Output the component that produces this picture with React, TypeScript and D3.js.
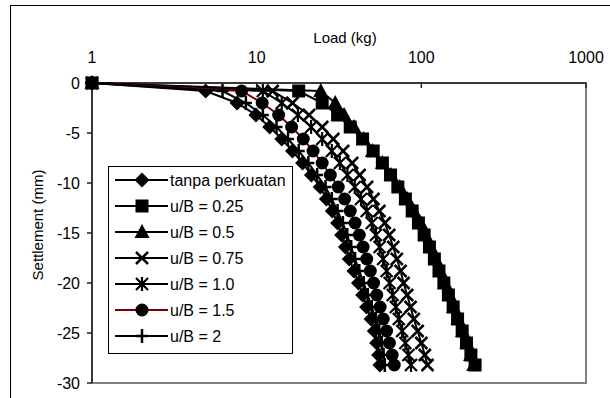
import * as d3 from 'd3'
import type { ReactElement } from 'react'

// settlement readings (mm), shared by every test
const settlement = [
  0, -0.8, -2.0, -3.2, -4.4, -5.6, -6.8, -8.0, -9.2, -10.4, -11.6, -12.8, -14.0, -15.2, -16.4, -17.6,
  -18.8, -20.0, -21.2, -22.4, -23.6, -24.8, -26.0, -27.2, -28.2,
]

// load (kg) at each settlement reading
const loadTanpa = [
  1, 4.9, 7.6, 9.9, 12, 14.2, 16.5, 19, 21.5, 24.3, 26.5, 28.8, 31, 32.8, 34.6, 36.5, 39, 41.5, 44, 46.5,
  49.5, 51.8, 53.5, 55, 56,
]
const loadU025 = [
  1, 18, 25, 31, 37, 44, 51, 58, 65, 72, 80, 88, 96, 104, 112, 120, 128, 137, 146, 156, 166, 177, 188, 200,
  212,
]
const loadU05 = [
  1, 24.5, 30, 34, 39, 44.5, 50.5, 58, 65.5, 74, 82, 90, 99, 106, 114, 122, 130, 139, 148, 157, 167, 178,
  189, 199, 208,
]
const loadU075 = [
  1, 12.5, 16.5, 20.8, 25, 29.2, 33.5, 38, 42.2, 46.8, 51.2, 55.6, 60, 63.8, 67.5, 71, 74.8, 78, 82, 86, 90,
  95, 100, 105, 109,
]
const loadU10 = [
  1, 10.9, 14.2, 17.8, 21.4, 25, 28.6, 32, 35.6, 39.4, 43, 46.6, 50, 53, 55.8, 58.6, 61.6, 64.2, 67, 70, 73,
  76.5, 80, 83.5, 86.5,
]
const loadU15 = [
  1, 8.1, 10.8, 13.6, 16.3, 19.2, 22, 25, 28, 31.3, 34.2, 37, 39.6, 42, 44.3, 46.6, 49, 51.3, 53.6, 56.2,
  58.7, 61.5, 64, 66.5, 68.5,
]
const loadU2 = [
  1, 6.2, 8.6, 10.9, 13.2, 15.5, 18, 20.6, 23.3, 26.2, 28.6, 31, 33.4, 35.5, 37.5, 39.6, 42, 44.7, 47.3, 50,
  53, 55.5, 57.5, 59, 60,
]

const seriesNames = ['tanpa perkuatan', 'u/B = 0.25', 'u/B = 0.5', 'u/B = 0.75', 'u/B = 1.0', 'u/B = 1.5', 'u/B = 2']
const loadTicks = [1, 10, 100, 1000]
const settlementTicks = [0, -5, -10, -15, -20, -25, -30]

type MarkerKind = 'diamond' | 'square' | 'triangle' | 'cross' | 'star' | 'circle' | 'plus'

const series: { name: string; loads: number[]; marker: MarkerKind; color: string }[] = [
  { name: seriesNames[0], loads: loadTanpa, marker: 'diamond', color: '#000' },
  { name: seriesNames[1], loads: loadU025, marker: 'square', color: '#000' },
  { name: seriesNames[2], loads: loadU05, marker: 'triangle', color: '#000' },
  { name: seriesNames[3], loads: loadU075, marker: 'cross', color: '#000' },
  { name: seriesNames[4], loads: loadU10, marker: 'star', color: '#000' },
  { name: seriesNames[5], loads: loadU15, marker: 'circle', color: '#800000' },
  { name: seriesNames[6], loads: loadU2, marker: 'plus', color: '#000' },
]

const font = "'Liberation Sans', Arial, sans-serif"

function Marker({ kind, x, y }: { kind: MarkerKind; x: number; y: number }): ReactElement {
  switch (kind) {
    case 'diamond':
      return <path d={`M${x},${y - 7.5}L${x + 7.5},${y}L${x},${y + 7.5}L${x - 7.5},${y}Z`} fill="#000" />
    case 'square':
      return <rect x={x - 6.5} y={y - 6.5} width={13} height={13} fill="#000" />
    case 'triangle':
      return <path d={`M${x},${y - 8}L${x + 7.5},${y + 6}L${x - 7.5},${y + 6}Z`} fill="#000" />
    case 'cross':
      return (
        <path d={`M${x - 6},${y - 6}L${x + 6},${y + 6}M${x - 6},${y + 6}L${x + 6},${y - 6}`} stroke="#000" strokeWidth={2.5} />
      )
    case 'star':
      return (
        <path
          d={`M${x - 6},${y - 6}L${x + 6},${y + 6}M${x - 6},${y + 6}L${x + 6},${y - 6}M${x},${y - 7}L${x},${y + 7}`}
          stroke="#000"
          strokeWidth={2.2}
        />
      )
    case 'circle':
      return <circle cx={x} cy={y} r={6.5} fill="#000" />
    case 'plus':
      return <path d={`M${x - 6},${y}L${x + 6},${y}M${x},${y - 7}L${x},${y + 7}`} stroke="#000" strokeWidth={2.5} />
  }
}

export default function App(): ReactElement {
  const width = 610
  const height = 398
  const plot = { left: 92, right: 586, top: 83, bottom: 383 }

  const xScale = d3.scaleLog().domain([1, 1000]).range([plot.left, plot.right])
  const yScale = d3.scaleLinear().domain([-30, 0]).range([plot.bottom, plot.top])

  const line = d3
    .line<number>()
    .x((d) => xScale(d))
    .y((_, i) => yScale(settlement[i]))

  const legend = { x: 108, y: 166, w: 184, h: 187, rowStart: 180, rowStep: 26 }

  return (
    <>
      <style>{'body{margin:0}'}</style>
      <svg width={width} height={height} style={{ display: 'block', fontFamily: font }}>
        <rect x={10.5} y={5.5} width={620} height={420} fill="#fff" stroke="#000" strokeWidth={1} />

        <rect
          x={plot.left}
          y={plot.top}
          width={plot.right - plot.left}
          height={plot.bottom - plot.top}
          fill="none"
          stroke="#808080"
          strokeWidth={2}
        />

        {/* y axis */}
        <line x1={plot.left} x2={plot.left} y1={plot.top} y2={plot.bottom} stroke="#222" strokeWidth={1.5} />
        {settlementTicks.map((t) => (
          <g key={t}>
            <line x1={plot.left - 5} x2={plot.left} y1={yScale(t)} y2={yScale(t)} stroke="#222" strokeWidth={1.5} />
            <text x={plot.left - 12} y={yScale(t) + 6} textAnchor="end" fontSize={16}>
              {t}
            </text>
          </g>
        ))}

        {/* x axis, drawn at settlement 0 with labels above */}
        <line x1={plot.left} x2={plot.right} y1={plot.top} y2={plot.top} stroke="#222" strokeWidth={1.5} />
        {loadTicks.map((t) => (
          <g key={t}>
            <line x1={xScale(t)} x2={xScale(t)} y1={plot.top} y2={plot.top + 5} stroke="#222" strokeWidth={1.5} />
            <text x={xScale(t)} y={plot.top - 20} textAnchor="middle" fontSize={16}>
              {t}
            </text>
          </g>
        ))}

        <text x={(plot.left + plot.right) / 2 + 6} y={43} textAnchor="middle" fontSize={15}>
          Load (kg)
        </text>
        <text
          transform={`translate(43,${(plot.top + plot.bottom) / 2 - 8}) rotate(-90)`}
          textAnchor="middle"
          fontSize={15}
        >
          Settlement (mm)
        </text>

        {series.map((s) => (
          <g key={s.name}>
            <path d={line(s.loads) ?? ''} fill="none" stroke={s.color} strokeWidth={2} />
            {s.loads.map((l, i) => (
              <Marker key={i} kind={s.marker} x={xScale(l)} y={yScale(settlement[i])} />
            ))}
          </g>
        ))}

        {/* legend */}
        <rect x={legend.x + 0.5} y={legend.y + 0.5} width={legend.w} height={legend.h} fill="#fff" stroke="#000" />
        {series.map((s, i) => {
          const cy = legend.rowStart + i * legend.rowStep
          return (
            <g key={s.name}>
              <line x1={115} x2={168} y1={cy} y2={cy} stroke={s.color} strokeWidth={2} />
              <Marker kind={s.marker} x={142} y={cy} />
              <text x={170} y={cy + 6} fontSize={16}>
                {s.name}
              </text>
            </g>
          )
        })}
      </svg>
    </>
  )
}
